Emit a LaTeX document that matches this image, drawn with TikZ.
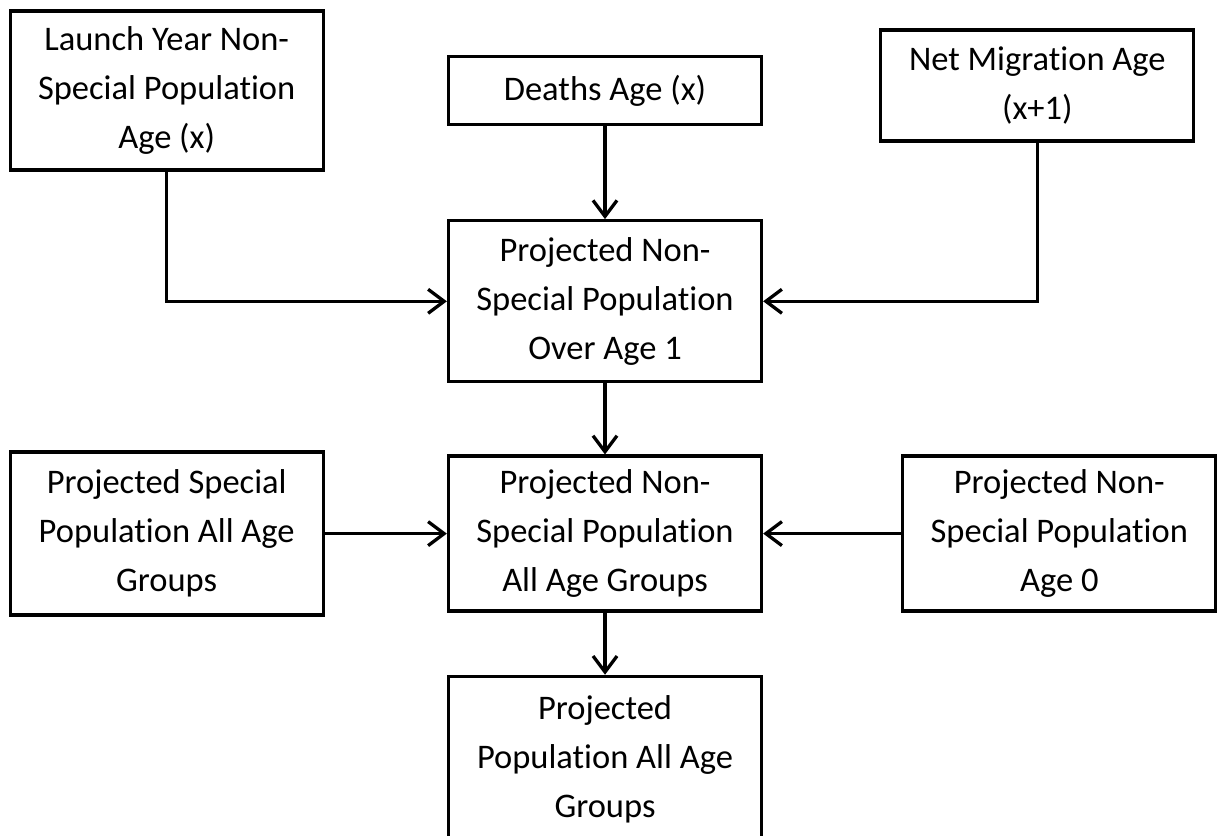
\documentclass[tikz,border=0pt]{standalone}
\usepackage{fontspec}
\setmainfont{Carlito}[Ligatures=NoCommon]
\usetikzlibrary{positioning,arrows.meta}

\begin{document}
\begin{tikzpicture}[
        x=1pt, y=1pt,
        line width=3.3pt,
        box/.style={
          draw,
          minimum width=313pt,
          align=center,
          font=\fontsize{34.5pt}{49pt}\selectfont
        },
        arr/.style={-{Straight Barb[length=16pt,width=24pt]}}
      ]
      \useasboundingbox (0,0) rectangle (1217,-835);

      % Top row: launch year, deaths, net migration
      \node[box,minimum height=68pt] (deaths) at (605,-90.5) {Deaths Age (x)};
      \node[box,minimum height=159pt,left=122pt of deaths] (launch) {Launch Year Non-\\Special Population\\Age (x)};
      \node[box,minimum height=111pt,right=116pt of deaths,yshift=5pt] (netmig) {Net Migration Age\\(x+1)};

      % Middle column: projected non-special population
      \node[box,minimum height=161pt,below=93pt of deaths] (proj1) {Projected Non-\\Special Population\\Over Age 1};
      \node[box,minimum height=155pt,below=71pt of proj1] (proj2) {Projected Non-\\Special Population\\All Age Groups};

      % Side boxes of the second row
      \node[box,minimum height=163pt,left=122pt of proj2] (special) {Projected Special\\Population All Age\\Groups};
      \node[box,minimum height=155pt,right=138pt of proj2] (age0) {Projected Non-\\Special Population\\Age 0};

      % Last box: total projected population
      \node[box,minimum height=166pt,below=62pt of proj2] (total) {Projected\\Population All Age\\Groups};

      \draw[arr] (launch) |- (proj1);
      \draw[arr] (netmig) |- (proj1);
      \draw[arr] (deaths) -- (proj1);
      \draw[arr] (proj1) -- (proj2);
      \draw[arr] (special) -- (proj2);
      \draw[arr] (age0) -- (proj2);
      \draw[arr] (proj2) -- (total);

\end{tikzpicture}
\end{document}
